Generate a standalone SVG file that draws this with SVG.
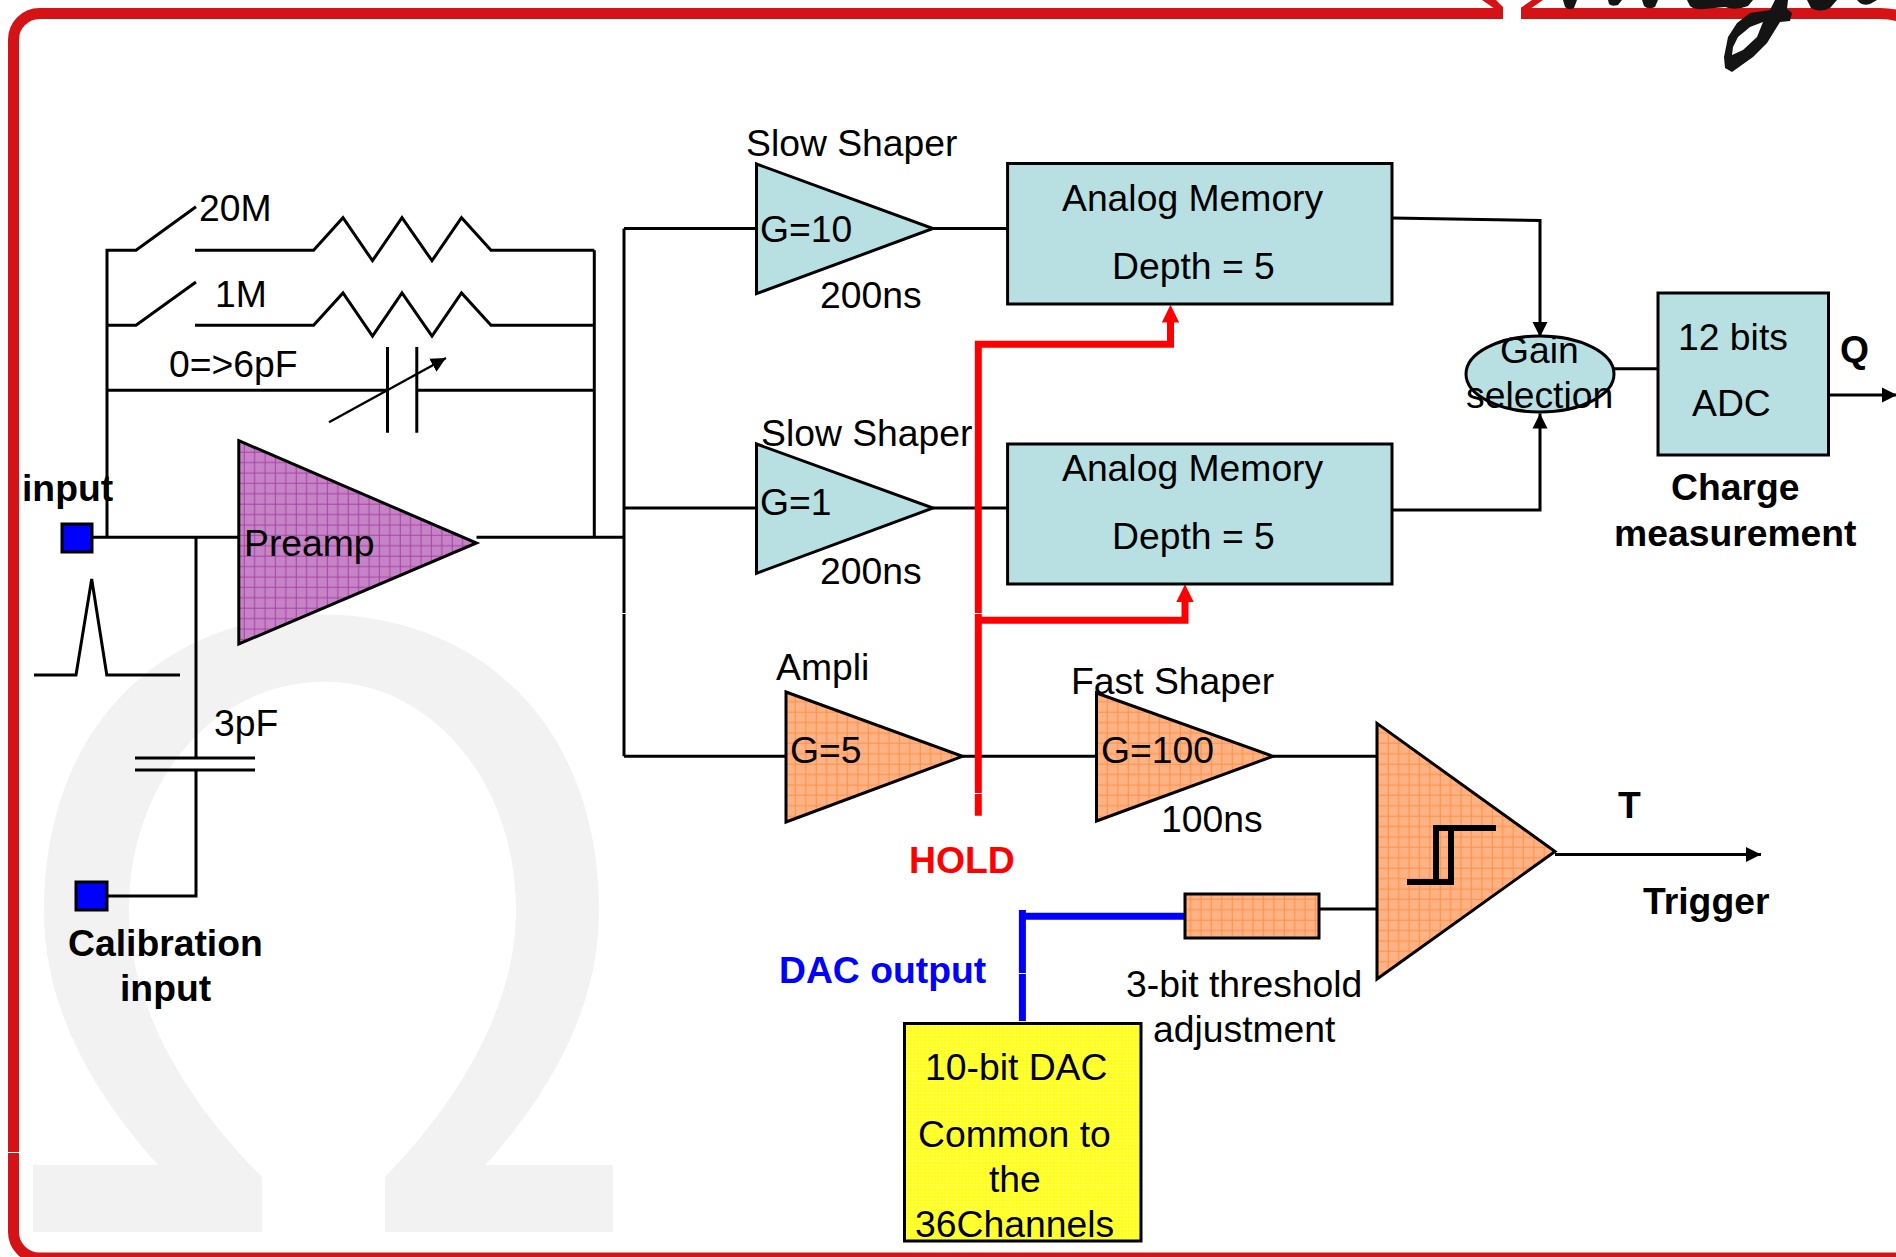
<svg xmlns="http://www.w3.org/2000/svg" width="1896" height="1257" viewBox="0 0 1896 1257">
<style>
text{font-family:"Liberation Sans",Arial,sans-serif;font-size:37.3px;fill:#000}
.b{font-weight:700}
.w{fill:none;stroke:#000;stroke-width:3}
.s{stroke:#000;stroke-width:3}
.teal{fill:#b8e0e3}
.org{fill:url(#po)}
.pur{fill:url(#pp)}
.yel{fill:url(#py)}
.seam{fill:#fff}
.red{fill:none;stroke:#f00;stroke-width:7}
.blue{fill:none;stroke:#00f;stroke-width:7}
.sq{fill:#00f;stroke:#000;stroke-width:3}
</style>
<defs>
<pattern id="po" width="10.4" height="10.4" patternUnits="userSpaceOnUse">
<rect width="10.4" height="10.4" fill="#ffb283"/>
<path d="M5 0V10.4M0 5H10.4" stroke="#ff8f45" stroke-width="1"/>
</pattern>
<pattern id="pp" width="10.4" height="10.4" patternUnits="userSpaceOnUse">
<rect width="10.4" height="10.4" fill="#c684c6"/>
<path d="M5 0V10.4M0 5H10.4" stroke="#a540a5" stroke-width="1"/>
</pattern>
<pattern id="py" width="3.4" height="3.4" patternUnits="userSpaceOnUse">
<rect width="3.4" height="3.4" fill="#ffff00"/>
<path d="M1.7 0V3.4M0 1.7H3.4" stroke="#ffff70" stroke-width=".8"/>
</pattern>
<marker id="ab" markerUnits="userSpaceOnUse" markerWidth="16" markerHeight="16" refX="15" refY="8" orient="auto">
<path d="M0 0.5L15 8L0 15.5Z" fill="#000"/>
</marker>
</defs>
<g id="watermark">
<path fill="#f2f2f2" d="M33 1165H158C95 1095 44 1010 44 911C44 720 170 614.500 322 614.500C474 614.500 599 720 599 911C599 1010 548 1095 485.500 1165H612.800V1232H385V1177C465 1095 516 1000 516 911C516 780 430 681.700 325 681.700C215 681.700 129 780 129 911C129 1000 180 1095 262 1177V1232H33Z"/>
</g>
<g id="frame">
<path d="M1902 17Q1892 13.4 1880 13.4H39.5A26 26 0 0 0 13.5 39.4V1232A26 26 0 0 0 39.5 1258H1902" fill="none" stroke="#d41317" stroke-width="11"/>
<path d="M1482 0H1496L1505 9H1495ZM1532 0H1543L1530 9H1519Z" fill="#d41317"/>
<rect class="seam" x="1503" y="0" width="18" height="20"/>
<rect class="seam" x="8" y="1152" width="11" height="1"/>
</g>
<g id="logo-fragment" fill="#141414">
<path d="M1563 0H1577L1574 8Q1569 11 1565 7ZM1608 0H1622L1618 5Q1612 7 1609 4ZM1642 0H1658L1655 7Q1648 10 1644 6ZM1687 0H1753L1748 6Q1735 11 1725 7L1704 9Q1695 10 1690 6ZM1807 0H1837L1830 8Q1820 13 1811 8ZM1857 0H1877L1870 4Q1864 6 1860 3Z"/>
<path fill-rule="evenodd" d="M1775 0H1788L1787 9L1792 13L1790 21L1780 22L1767 43L1753 57L1732 72L1725 68L1724 57L1728 37L1737 23L1750 13L1770 10ZM1763 22L1750 27L1738 37L1733 47L1732 55L1743 50L1757 37Z"/>
</g>
<g id="connectors">
<path class="w" d="M107 537V250.3H136L196 206.7"/>
<path class="w" d="M195 250.3H313.6L343 217.7L372.5 260.7L402 217.7L432 260.7L461.5 217.7L491 250.3H594.3"/>
<path class="w" d="M107 325.3H136L196 282"/>
<path class="w" d="M195 325.3H313.6L343 293L372.5 336L402 293L432 336L461.5 293L491 325.3H594.3"/>
<path class="w" d="M107 390.3H387.5M416.8 390.3H594.3"/>
<path class="w" d="M387.5 347V432.7M416.8 347V432.7"/>
<path class="w" d="M329 422.3L446 358" marker-end="url(#ab)" style="stroke-width:2.4"/>
<path class="w" d="M594.3 250.3V537.3"/>
<path class="w" d="M92 537.3H238.8M476.5 537.3H624"/>
<path class="w" d="M196 537.3V758M196 770V896H108"/>
<path class="w" d="M135 758H255M135 770H255"/>
<path class="w" d="M34 675H76L91.7 579L106.8 675H180"/>
<path class="w" d="M624 228.5V756.3"/>
<path class="w" d="M624 228.5H756.5M933 228.5H1007.6"/>
<path class="w" d="M624 508H756.5M933 508H1007.6"/>
<path class="w" d="M624 756.3H786M962.5 756.3H1096.5M1273 756.3H1377"/>
<path class="w" d="M1392 218L1540 220.5V337" marker-end="url(#ab)"/>
<path class="w" d="M1392 510H1540V413.5" marker-end="url(#ab)"/>
<path class="w" d="M1614 368.7H1658"/>
<path class="w" d="M1829 395H1897" marker-end="url(#ab)"/>
<path class="w" d="M1555 854.500H1761" marker-end="url(#ab)"/>
<path class="w" d="M1319 909H1377"/>
<path id="hold-line" class="red" d="M978.3 815.7V344.3H1170.5V320M978.3 620.3H1185V600"/>
<path d="M1170.5 304.8L1179.2 322.6H1161.8ZM1185 584.3L1193.7 602H1176.3Z" fill="#f00"/>
<path id="dac-line" class="blue" d="M1022.4 1021V910M1019 916.3H1185"/>
<rect class="seam" x="620" y="613" width="8" height="1"/>
<rect class="seam" x="974" y="613" width="9" height="1"/>
<rect class="seam" x="974" y="793" width="9" height="1"/>
<rect class="seam" x="1018" y="973" width="9" height="1"/>
</g>
<g id="input"><rect class="sq" x="62" y="524" width="30" height="28"/><text class="b" x="22" y="501">input</text></g>
<g id="calibration-input"><rect class="sq" x="76" y="882" width="31" height="28"/><text class="b" x="68" y="956">Calibration</text><text class="b" x="120" y="1001">input</text></g>
<g id="preamp"><polygon class="pur s" points="238.8,440.7 476.5,543 238.8,644"/><text x="244" y="556">Preamp</text></g>
<g id="r20m"><text x="199" y="221">20M</text></g>
<g id="r1m"><text x="215" y="307">1M</text></g>
<g id="cf"><text x="169" y="377">0=&gt;6pF</text></g>
<g id="c3p"><text x="214" y="736">3pF</text></g>
<g id="slow-shaper-10"><polygon class="teal s" points="756.5,164 933,228.5 756.5,293.7"/><text x="746" y="156">Slow Shaper</text><text x="760" y="242">G=10</text><text x="820" y="308">200ns</text></g>
<g id="slow-shaper-1"><polygon class="teal s" points="756.5,444 933,508 756.5,573.3"/><text x="761" y="446">Slow Shaper</text><text x="760" y="515">G=1</text><text x="820" y="584">200ns</text></g>
<g id="memory-1"><rect class="teal s" x="1007.6" y="163.5" width="384.4" height="140.5"/><text x="1062" y="211">Analog Memory</text><text x="1112" y="279">Depth = 5</text></g>
<g id="memory-2"><rect class="teal s" x="1007.6" y="444" width="384.4" height="140"/><text x="1062" y="481">Analog Memory</text><text x="1112" y="549">Depth = 5</text></g>
<g id="gain-selection"><ellipse class="teal s" cx="1540" cy="374" rx="74" ry="38"/><text x="1500" y="363">Gain</text><text x="1466" y="408">selection</text></g>
<g id="adc"><rect class="teal s" x="1658" y="293" width="170.500" height="162"/><text x="1678" y="350">12 bits</text><text x="1692" y="416">ADC</text><text class="b" x="1840" y="362">Q</text><text class="b" x="1671" y="500">Charge</text><text class="b" x="1614" y="546">measurement</text></g>
<g id="ampli"><polygon class="org s" points="786,692 962.5,756.3 786,822"/><text x="776" y="680">Ampli</text><text x="790" y="763">G=5</text></g>
<g id="fast-shaper"><polygon class="org s" points="1096.5,693 1273,756.300 1096.500,821"/><text x="1071" y="694">Fast Shaper</text><text x="1101" y="763">G=100</text><text x="1161" y="832">100ns</text></g>
<g id="discriminator"><polygon class="org s" points="1377,723.400 1555,851.500 1377,979"/><path d="M1407 882H1451V828M1436 882V828H1496" fill="none" stroke="#000" stroke-width="6"/><text class="b" x="1618" y="818">T</text><text class="b" x="1643" y="914">Trigger</text></g>
<g id="threshold"><rect class="org s" x="1185" y="894" width="134" height="44"/><text x="1126" y="997">3-bit threshold</text><text x="1153" y="1042">adjustment</text></g>
<g id="dac"><rect class="yel s" x="904.500" y="1023.500" width="236.500" height="217.500"/><text x="925" y="1080">10-bit DAC</text><text x="918" y="1147">Common to</text><text x="989" y="1192">the</text><text x="915" y="1237">36Channels</text></g>
<g id="hold-label"><text class="b" x="909" y="873" style="fill:#f00">HOLD</text></g>
<g id="dac-label"><text class="b" x="779" y="983" style="fill:#00f">DAC output</text></g>
</svg>
